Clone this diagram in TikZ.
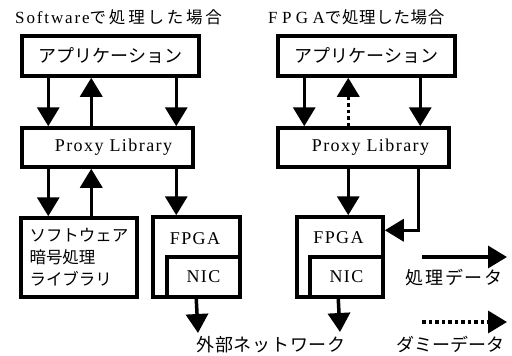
\documentclass[tikz,border=0pt]{standalone}
\usepackage{fontspec}
\setmainfont{Liberation Serif}[LetterSpace=8]
\newfontfamily\latA{Liberation Serif}[LetterSpace=11]
\newfontfamily\latB{Liberation Serif}[LetterSpace=26]
\newfontfamily\jp{Noto Sans CJK JP}
\newfontfamily\jpA{Noto Sans CJK JP}[LetterSpace=17]
\newfontfamily\jpB{Noto Sans CJK JP}[LetterSpace=4]
\newfontfamily\jpC{Noto Sans CJK JP}[LetterSpace=9]
\usetikzlibrary{arrows.meta}
\begin{document}
\begin{tikzpicture}[x=1pt,y=-1pt,
  every node/.style={inner sep=0pt,font=\fontsize{18}{22}\selectfont},
  box/.style={draw,line width=3.5pt,fill=white,rectangle},
  arr/.style={line width=3.5pt,-{Triangle[length=19pt,width=22pt]}},
  dotarr/.style={arr,dash pattern=on 3.5pt off 3pt},
  ttl/.style={anchor=west,font=\fontsize{17}{20}\selectfont}]
\useasboundingbox (0,0) rectangle (512,356);
% ---------- left panel ----------
\node[ttl] (titleL) at (15,17) {{\latA Software}{\jpA\fontsize{16.5}{20}\selectfont で処理した場合}};
\node[box,minimum width=177pt,minimum height=40pt] (appL) at (110.5,56) {\jp アプリケーション};
\node[box,minimum width=171pt,minimum height=39pt] (proxyL) at (107.5,147.5) {\hspace*{12pt}Proxy Library};
\node[box,minimum width=116pt,minimum height=79pt,align=left,font=\fontsize{16.5}{22}\selectfont] (softL) at (79,257.5) {\jp ソフトウェア\\\jp 暗号処理\\\jp ライブラリ};
\node[box,minimum width=87pt,minimum height=80pt] (fpgaL) at (196.5,257) {};
\node[box,minimum width=73pt,minimum height=40pt] (nicL) at (203.5,277) {NIC};
\node (fpgaLt) at (195,239) {FPGA};
\coordinate (extL) at (198,333);
\node (extLt) at (271,345) {\jpB 外部ネットワーク};
\draw[arr] ([xshift=28pt]appL.south west) -- ([xshift=28pt]proxyL.north west);
\draw[arr] ([xshift=71pt]proxyL.north west) -- ([xshift=71pt]appL.south west);
\draw[arr] ([xshift=156pt]appL.south west) -- ([xshift=156pt]proxyL.north west);
\draw[arr] ([xshift=28pt]proxyL.south west) -- ([xshift=29pt]softL.north west);
\draw[arr] ([xshift=72pt]softL.north west) -- ([xshift=71pt]proxyL.south west);
\draw[arr] ([xshift=156pt]proxyL.south west) -- ([xshift=25pt]fpgaL.north west);
\draw[arr] ([xshift=31pt]nicL.south west) -- (extL);
% ---------- right panel ----------
\node[ttl] (titleR) at (268,17) {{\latB FPGA}{\jpB\fontsize{16.5}{20}\selectfont で処理した場合}};
\node[box,minimum width=177pt,minimum height=40pt] (appR) at (366.5,56) {\jp アプリケーション};
\node[box,minimum width=171pt,minimum height=39pt] (proxyR) at (363.5,147.5) {\hspace*{14pt}Proxy Library};
\node[box,minimum width=86pt,minimum height=80pt] (fpgaR) at (340,257) {};
\node[box,minimum width=73pt,minimum height=40pt] (nicR) at (346.5,277) {NIC};
\node (fpgaRt) at (338.5,238) {FPGA};
\coordinate (extR) at (340,332);
\draw[arr] ([xshift=28pt]appR.south west) -- ([xshift=28pt]proxyR.north west);
\draw[dotarr] ([xshift=72pt]proxyR.north west) -- ([xshift=72pt]appR.south west);
\draw[arr] ([xshift=144pt]appR.south west) -- ([xshift=144pt]proxyR.north west);
\draw[arr] ([xshift=72pt]proxyR.south west) -- ([xshift=53pt]fpgaR.north west);
\draw[arr] ([xshift=142pt]proxyR.south west) |- ([yshift=-15pt]fpgaR.north east);
\draw[arr] ([xshift=30pt]nicR.south west) -- (extR);
% ---------- legend ----------
\coordinate (lg1a) at (422,257);
\coordinate (lg1b) at (507,257);
\coordinate (lg2a) at (422,322);
\coordinate (lg2b) at (507,322);
\draw[arr] (lg1a) -- (lg1b);
\draw[dotarr] (lg2a) -- (lg2b);
\node (lg1t) at (454,278) {\jpC 処理データ};
\node (lg2t) at (450,344) {\jp ダミーデータ};
\end{tikzpicture}
\end{document}
